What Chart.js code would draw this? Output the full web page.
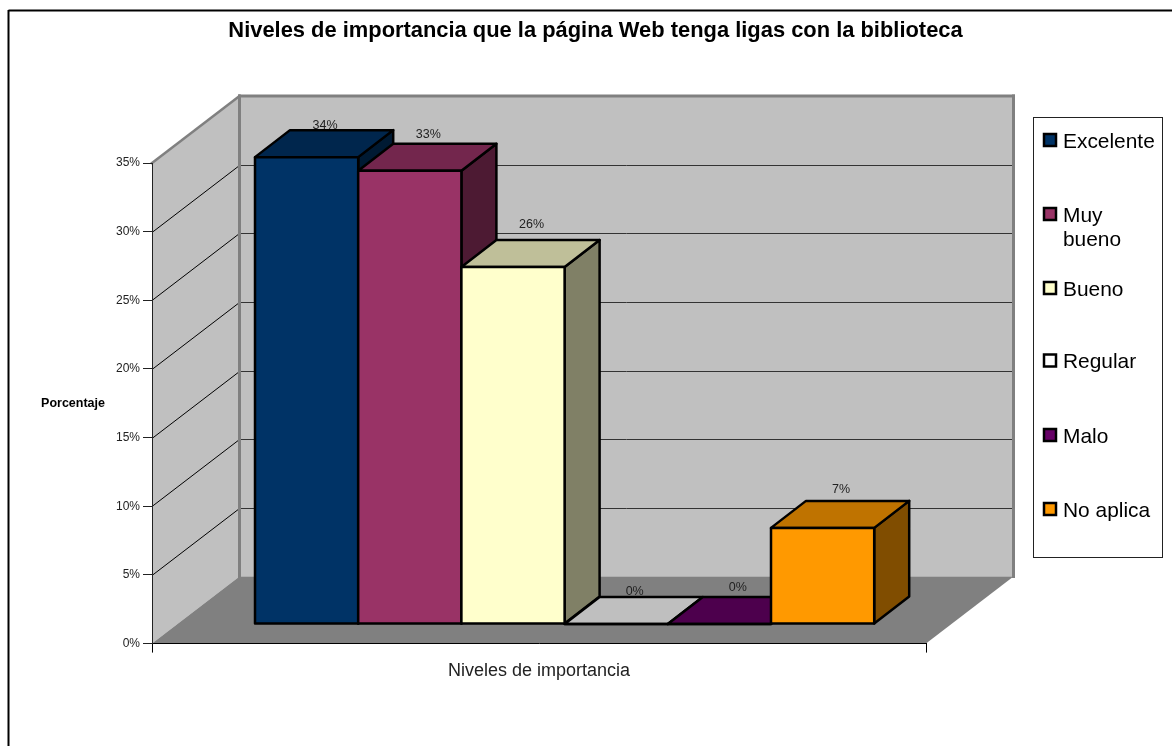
<!DOCTYPE html>
<html>
<head>
<meta charset="utf-8">
<style>
  html, body { margin: 0; background: #fff; overflow: hidden; }
  canvas { display: block; }
</style>
<script src="https://cdn.jsdelivr.net/npm/chart.js@4/dist/chart.umd.min.js"></script>
</head>
<body>
<canvas id="chart" width="1172" height="746"></canvas>
<script>
// Data
const categoryLabel = ['Niveles de importancia'];
const levelNames = ['Excelente', 'Muy bueno', 'Bueno', 'Regular', 'Malo', 'No aplica'];
const levelValues = [34, 33, 26, 0, 0, 7];
const yTickStep = 5;
const yMax = 35;

const chartTitle = 'Niveles de importancia que la página Web tenga ligas con la biblioteca';
const yAxisTitle = 'Porcentaje';

// Colours: front, top and side face of each bar
const frontColors = ['#003366', '#993366', '#FFFFCC', '#FFFFFF', '#660066', '#FF9900'];
const topColors = ['#00264D', '#73264D', '#BFBF99', '#BFBFBF', '#4D004D', '#BF7300'];
const sideColors = ['#001A33', '#4D1A33', '#808066', '#808080', '#330033', '#804D00'];

// 3D look
const wallDX = 87.5, wallDY = -67;     // front plane to back wall
const barDX = 25.6, barDY = -19.6;     // front plane to front of the bars
const depthDX = 35, depthDY = -27;     // depth of a bar
const labelRaise = [5, 9, 15, 5, 9, 11];
const legendRows = [140, 214, 288, 360.5, 435, 509];

const FONT = '"Liberation Sans", Arial, sans-serif';

function poly(ctx, pts, fill, stroke, lw) {
    ctx.beginPath();
    pts.forEach((p, i) => i ? ctx.lineTo(p[0], p[1]) : ctx.moveTo(p[0], p[1]));
    ctx.closePath();
    if (fill) { ctx.fillStyle = fill; ctx.fill(); }
    if (stroke) { ctx.strokeStyle = stroke; ctx.lineWidth = lw; ctx.stroke(); }
}

function line(ctx, x1, y1, x2, y2, color, lw) {
    ctx.beginPath();
    ctx.moveTo(x1, y1);
    ctx.lineTo(x2, y2);
    ctx.strokeStyle = color;
    ctx.lineWidth = lw;
    ctx.stroke();
}

function text(ctx, str, x, y, font, color, align) {
    ctx.font = font;
    ctx.fillStyle = color;
    ctx.textAlign = align || 'center';
    ctx.textBaseline = 'middle';
    ctx.fillText(str, x, y);
}

const scene3d = {
    id: 'scene3d',
    // walls and floor go under the axes
    beforeDraw(chart) {
        const ctx = chart.ctx;
        const y = chart.scales.y;
        const { left, right, top, bottom } = chart.chartArea;
        ctx.save();
        ctx.fillStyle = '#fff';
        ctx.fillRect(0, 0, chart.width, chart.height);

        // outer frame, only top and left show
        line(ctx, 8.5, 10.5, 1172, 10.5, '#000', 2);
        line(ctx, 8.5, 10, 8.5, 746, '#000', 2);

        poly(ctx, [[left, top], [left + wallDX, top + wallDY], [left + wallDX, bottom + wallDY], [left, bottom]], '#C0C0C0');
        poly(ctx, [[left + wallDX, top + wallDY], [right + wallDX, top + wallDY], [right + wallDX, bottom + wallDY], [left + wallDX, bottom + wallDY]], '#C0C0C0');
        poly(ctx, [[left, bottom], [left + wallDX, bottom + wallDY], [right + wallDX, bottom + wallDY], [right, bottom]], '#808080');

        y.ticks.forEach(t => {
            if (t.value === 0 || t.value === yMax) return;
            const py = Math.round(y.getPixelForValue(t.value)) + 0.5;
            line(ctx, left, py, left + wallDX, py + wallDY, '#000', 1);
            line(ctx, left + wallDX, py + wallDY, right + wallDX, py + wallDY, '#333', 1);
        });

        // grey wall edges
        ctx.lineCap = 'square';
        line(ctx, left, top, left + wallDX, top + wallDY, '#808080', 2.5);
        line(ctx, left + wallDX, top + wallDY, right + wallDX, top + wallDY, '#808080', 3);
        line(ctx, left + wallDX, top + wallDY, left + wallDX, bottom + wallDY, '#808080', 3);
        line(ctx, right + wallDX, top + wallDY, right + wallDX, bottom + wallDY, '#808080', 3);
        ctx.restore();
    },
    // draw left to right so each bar covers the side of the one before it
    beforeDatasetsDraw(chart) {
        const ctx = chart.ctx;
        ctx.save();
        ctx.lineJoin = 'round';
        levelNames.forEach((name, i) => {
            const meta = chart.getDatasetMeta(i);
            const bar = meta.data[0].getProps(['x', 'y', 'base', 'width'], true);
            const l = bar.x - bar.width / 2 + barDX;
            const r = bar.x + bar.width / 2 + barDX;
            const t = bar.y + barDY;
            const b = bar.base + barDY;
            if (b - t > 0) {
                poly(ctx, [[r, t], [r + depthDX, t + depthDY], [r + depthDX, b + depthDY], [r, b]], sideColors[i], '#000', 2.5);
            }
            poly(ctx, [[l, t], [l + depthDX, t + depthDY], [r + depthDX, t + depthDY], [r, t]], topColors[i], '#000', 2.5);
            ctx.save();
            ctx.translate(barDX, barDY);
            meta.controller.draw();
            ctx.restore();
            // the library insets its border, the outline here sits on the edge
            ctx.strokeStyle = '#000';
            ctx.lineWidth = 2.5;
            ctx.strokeRect(l, t, r - l, b - t);
        });
        levelNames.forEach((name, i) => {
            const bar = chart.getDatasetMeta(i).data[0].getProps(['x', 'y'], true);
            text(ctx, levelValues[i] + '%', bar.x + barDX + depthDX / 2 + 1, bar.y + barDY + depthDY - labelRaise[i], '12.5px ' + FONT, '#222');
        });
        ctx.restore();
        return false;
    },
    afterDraw(chart) {
        const ctx = chart.ctx;
        ctx.save();
        text(ctx, chartTitle, 595.5, 31, 'bold 21.9px ' + FONT, '#000');
        text(ctx, yAxisTitle, 73, 404, 'bold 12.5px ' + FONT, '#000');

        // legend box
        ctx.strokeStyle = '#222';
        ctx.lineWidth = 1;
        ctx.strokeRect(1033.5, 117.5, 129, 440);
        levelNames.forEach((name, i) => {
            const cy = legendRows[i];
            ctx.fillStyle = frontColors[i];
            ctx.fillRect(1044, cy - 6, 12, 12);
            ctx.strokeStyle = '#000';
            ctx.lineWidth = 2.5;
            ctx.strokeRect(1044, cy - 6, 12, 12);
            const words = name === 'Muy bueno' ? name.split(' ') : [name];
            words.forEach((w, k) => text(ctx, w, 1063, cy + 2 + k * 24.5, '20.9px ' + FONT, '#000', 'left'));
        });
        ctx.restore();
    }
};

new Chart(document.getElementById('chart'), {
    type: 'bar',
    data: {
        labels: categoryLabel,
        datasets: levelNames.map((name, i) => ({
            label: name,
            data: [levelValues[i]],
            backgroundColor: frontColors[i],
            borderWidth: 0,
            categoryPercentage: 0.8,
            barPercentage: 1
        }))
    },
    options: {
        responsive: false,
        animation: false,
        layout: { padding: { left: 102, top: 163, right: 246, bottom: 0 } },
        plugins: { legend: { display: false }, title: { display: false }, tooltip: { enabled: false } },
        scales: {
            x: {
                grid: { drawOnChartArea: false, drawTicks: true, tickLength: 9, color: '#000' },
                border: { display: true, color: '#000', width: 1 },
                ticks: { color: '#222', font: { family: FONT, size: 18 }, padding: 8, maxRotation: 0, autoSkip: false },
                afterFit(scale) { scale.height = 102.4; }
            },
            y: {
                min: 0,
                max: yMax,
                grid: { drawOnChartArea: false, drawTicks: true, tickLength: 9, color: '#222' },
                border: { display: true, color: '#222', width: 1 },
                ticks: { stepSize: yTickStep, color: '#222', font: { family: FONT, size: 12 }, padding: 3, callback: v => v + '%' },
                afterFit(scale) { scale.width = 50; }
            }
        }
    },
    plugins: [scene3d]
});
</script>
</body>
</html>
